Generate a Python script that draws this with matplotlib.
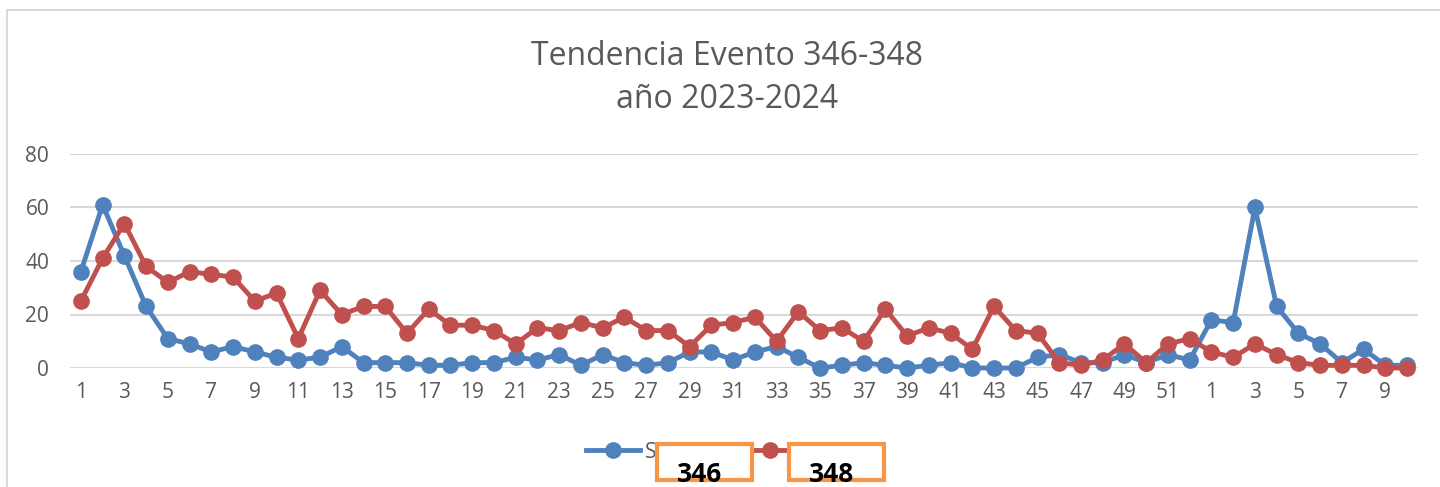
import matplotlib.pyplot as plt
from matplotlib.patches import Rectangle

plt.rcParams['font.family'] = ['Open Sans', 'DejaVu Sans']

# semanas epidemiologicas: 2023 (1-52) y 2024 (1-10)
semanas = list(range(1, 53)) + list(range(1, 11))

# evento 346
serie_346 = [36, 61, 42, 23, 11, 9, 6, 8, 6, 4, 3, 4, 8, 2, 2, 2, 1, 1, 2, 2,
             4, 3, 5, 1, 5, 2, 1, 2, 6, 6, 3, 6, 8, 4, 0, 1, 2, 1, 0, 1,
             2, 0, 0, 0, 4, 5, 2, 2, 5, 2, 5, 3,
             18, 17, 60, 23, 13, 9, 2, 7, 1, 1]

# evento 348
serie_348 = [25, 41, 54, 38, 32, 36, 35, 34, 25, 28, 11, 29, 20, 23, 23, 13, 22, 16, 16, 14,
             9, 15, 14, 17, 15, 19, 14, 14, 8, 16, 17, 19, 10, 21, 14, 15, 10, 22, 12, 15,
             13, 7, 23, 14, 13, 2, 1, 3, 9, 2, 9, 11,
             6, 4, 9, 5, 2, 1, 1, 1, 0, 0]

azul = '#4F81BD'
rojo = '#C0504D'
gris = '#595959'

fig = plt.figure(figsize=(14.4, 4.87), dpi=100)
ax = fig.add_axes([70 / 1440, 1 - 368 / 487, 1348 / 1440, 214 / 487])

x = range(len(semanas))
ax.plot(x, serie_346, '-o', color=azul, lw=3.5, ms=11, label='Serie1', clip_on=False, zorder=3)
ax.plot(x, serie_348, '-o', color=rojo, lw=3.5, ms=11, label='Serie2', clip_on=False, zorder=4)

ax.set_xlim(-0.5, len(semanas) - 0.5)
ax.set_ylim(0, 80)
ax.set_yticks([0, 20, 40, 60, 80])
ax.set_xticks(list(x)[::2])
ax.set_xticklabels([str(s) for s in semanas[::2]])
ax.tick_params(axis='both', length=0, labelsize=15, labelcolor=gris)
ax.tick_params(axis='x', pad=10)
ax.tick_params(axis='y', pad=15)
ax.grid(axis='y', color='#D9D9D9', lw=1.5)
ax.set_axisbelow(True)
for s in ax.spines.values():
    s.set_visible(False)

# titulo
fig.text(0.505, 1 - 78 / 487, 'Tendencia Evento 346-348\naño 2023-2024',
         ha='center', va='center', fontsize=23, color=gris, linespacing=1.38)

# leyenda
fig.legend(loc='center', bbox_to_anchor=(0.503, 1 - 452 / 487), ncol=2, frameon=False,
           fontsize=15, labelcolor=gris, handlelength=2.6, handletextpad=0.25,
           columnspacing=1.8)

# cuadros naranjas sobre la leyenda
for x0, txt, tx in [(657, '346', 700), (789, '348', 832)]:
    fig.patches.append(Rectangle((x0 / 1440, 1 - 480 / 487), 95 / 1440, 36 / 487,
                                 transform=fig.transFigure, facecolor='white',
                                 edgecolor='#F79646', lw=3, zorder=10))
    fig.text(tx / 1440, 1 - 474 / 487, txt, ha='center', va='center', fontsize=19,
             fontweight='bold', color='black', zorder=11)

# marco del grafico
fig.patches.append(Rectangle((7 / 1440, -0.05), 1.1, 1 - 10 / 487 + 0.05,
                             transform=fig.transFigure, fill=False,
                             edgecolor='#D9D9D9', lw=1.5, zorder=0))

plt.savefig('out.png', dpi=100)
